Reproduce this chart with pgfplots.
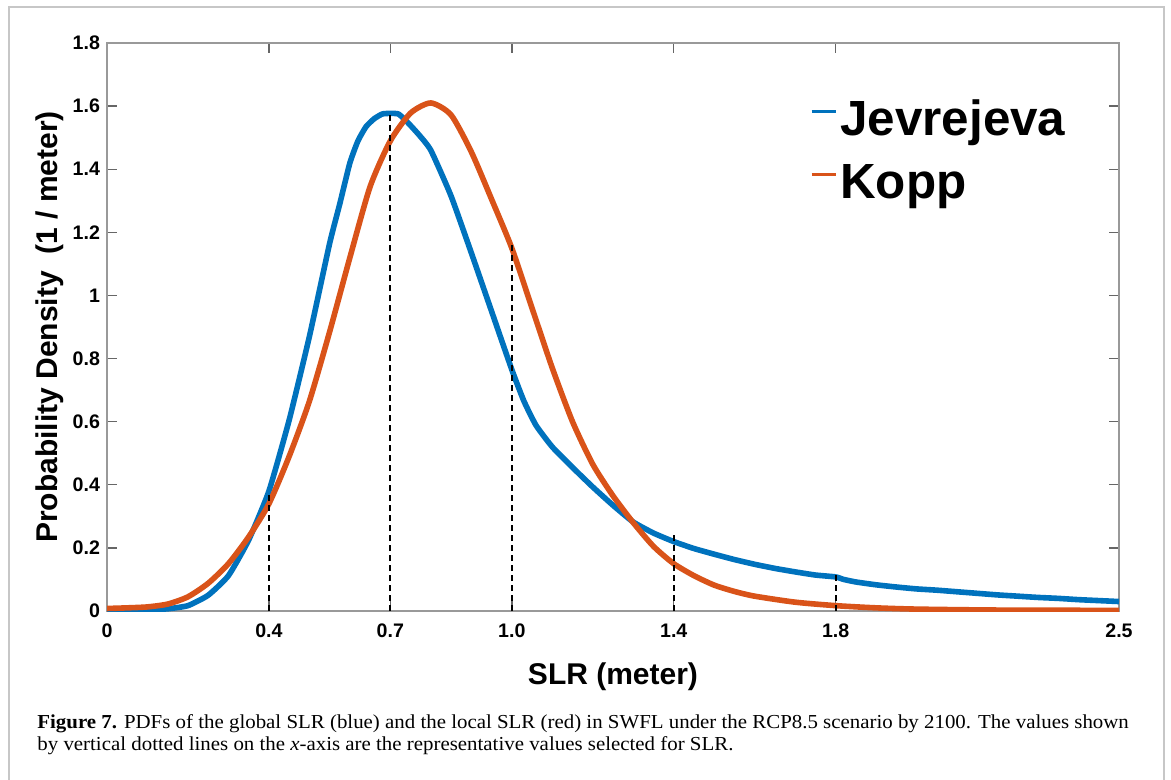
\documentclass[border=0pt]{standalone}
\usepackage{pgfplots}
\pgfplotsset{compat=1.18}
\usepackage{fontspec}
\setmainfont{Liberation Sans}
\newfontfamily\capfont[FakeStretch=1.055]{Liberation Serif}
\definecolor{mblue}{RGB}{0,114,189}
\definecolor{morange}{RGB}{217,83,25}

\begin{document}
\begin{tikzpicture}
\useasboundingbox (0,0) rectangle (585.5pt,-390pt);
\begin{scope}[x=0.5pt,y=-0.5pt]
\draw[black!22, line width=1pt] (9,800) -- (9,7) -- (1164,7) -- (1164,800);
\node[anchor=base west, inner sep=0pt, font=\capfont\fontsize{9.9}{11}\selectfont] at (37,728)
  {\textbf{Figure 7.} PDFs of the global SLR (blue) and the local SLR (red) in SWFL under the RCP8.5 scenario by 2100. The values shown};
\node[anchor=base west, inner sep=0pt, font=\capfont\fontsize{9.9}{11}\selectfont] at (37,750)
  {by vertical dotted lines on the \textit{x}-axis are the representative values selected for SLR.};
\end{scope}
\begin{axis}[
  at={(53.5pt,-305.5pt)}, anchor=south west,
  scale only axis, width=506pt, height=284pt,
  xmin=0, xmax=2.5, ymin=0, ymax=1.8,
  xtick={0,0.4,0.7,1.0,1.4,1.8,2.5},
  xticklabels={0,0.4,0.7,1.0,1.4,1.8,2.5},
  ytick={0,0.2,0.4,0.6,0.8,1.0,1.2,1.4,1.6,1.8},
  yticklabels={0,0.2,0.4,0.6,0.8,1,1.2,1.4,1.6,1.8},
  tick align=inside, major tick length=5pt,
  axis line style={draw=black!40, line width=0.7pt},
  every tick/.style={black!60, line width=0.7pt},
  ticklabel style={font=\fontsize{9.8}{12}\selectfont\bfseries},
  xticklabel style={yshift=-3pt},
  xlabel={SLR (meter)}, ylabel={Probability Density\ \ (1 / meter)},
  label style={font=\fontsize{15}{18}\selectfont\bfseries},
  xlabel style={at={(axis description cs:0.5,-0.116)}, anchor=center},
  ylabel style={at={(axis description cs:-0.0563,0.5)}, anchor=center},
  legend style={draw=none, fill=none, inner sep=0pt, at={(0.6945,0.8996)}, anchor=north west,
    font=\fontsize{24.7}{29}\selectfont\bfseries,
    nodes={inner sep=0pt, text height=17.5pt, text depth=5pt},
    row sep=9pt, column sep=1.5pt},
  legend cell align=left,
  legend image code/.code={\draw[#1, line width=1.5pt] (0pt,5.6pt) -- (12pt,5.6pt);},
]
\addplot[mblue, line width=2.8pt, line join=round, smooth, tension=0.3] table {
0.00 0.003
0.05 0.003
0.10 0.004
0.15 0.007
0.20 0.017
0.25 0.050
0.30 0.112
0.35 0.225
0.40 0.380
0.45 0.605
0.50 0.870
0.55 1.165
0.575 1.290
0.60 1.420
0.62 1.490
0.64 1.535
0.66 1.560
0.68 1.575
0.70 1.577
0.72 1.575
0.74 1.552
0.77 1.510
0.80 1.460
0.85 1.315
0.90 1.135
0.95 0.950
1.00 0.765
1.03 0.665
1.06 0.588
1.10 0.520
1.15 0.455
1.20 0.393
1.25 0.335
1.30 0.282
1.35 0.247
1.40 0.220
1.45 0.198
1.50 0.180
1.55 0.163
1.60 0.148
1.65 0.135
1.70 0.124
1.75 0.114
1.80 0.108
1.82 0.100
1.85 0.092
1.90 0.083
1.95 0.076
2.00 0.070
2.05 0.066
2.10 0.061
2.15 0.056
2.20 0.051
2.25 0.047
2.30 0.043
2.35 0.040
2.40 0.036
2.45 0.033
2.50 0.030
};
\addlegendentry{Jevrejeva}
\addplot[morange, line width=2.8pt, line join=round, smooth, tension=0.4] table {
0.00 0.008
0.05 0.010
0.10 0.013
0.15 0.022
0.20 0.045
0.25 0.088
0.30 0.150
0.35 0.235
0.40 0.340
0.45 0.490
0.50 0.665
0.55 0.885
0.60 1.120
0.65 1.345
0.70 1.490
0.75 1.578
0.80 1.610
0.85 1.572
0.90 1.455
0.95 1.305
1.00 1.150
1.05 0.960
1.10 0.770
1.15 0.600
1.20 0.465
1.25 0.365
1.30 0.280
1.35 0.205
1.40 0.150
1.45 0.112
1.50 0.082
1.55 0.062
1.60 0.047
1.70 0.028
1.80 0.017
1.90 0.010
2.00 0.006
2.20 0.003
2.50 0.002
};
\addlegendentry{Kopp}
\addplot[black, line width=1pt, dash pattern=on 3pt off 2pt, forget plot] coordinates {(0.4,0) (0.4,0.38)};
\addplot[black, line width=1pt, dash pattern=on 3pt off 2pt, forget plot] coordinates {(0.7,0) (0.7,1.577)};
\addplot[black, line width=1pt, dash pattern=on 3pt off 2pt, forget plot] coordinates {(1.0,0) (1.0,1.16)};
\addplot[black, line width=1pt, dash pattern=on 3pt off 2pt, forget plot] coordinates {(1.4,0) (1.4,0.24)};
\addplot[black, line width=1pt, dash pattern=on 3pt off 2pt, forget plot] coordinates {(1.8,0) (1.8,0.114)};
\end{axis}
\end{tikzpicture}
\end{document}
